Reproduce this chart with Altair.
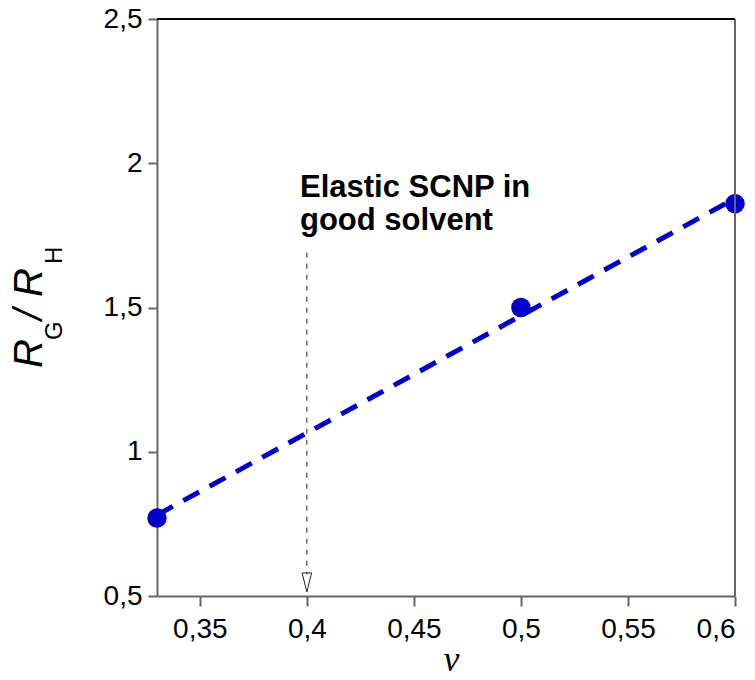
import altair as alt
import pandas as pd

# Measured ratio of radius of gyration to hydrodynamic radius vs. scaling exponent
nu = [0.33, 0.5, 0.6]
ratio = [0.77, 1.5, 1.86]

# Annotation arrow at nu = 0.4
arrow_x = [0.4]
arrow_top = [1.69]
arrow_bottom = [0.575]
arrowhead_y = [0.547]

note_x = [0.3968]
note_y = [1.883]
note_text = ["Elastic SCNP in\ngood solvent"]

x_ticks = [0.35, 0.4, 0.45, 0.5, 0.55, 0.6]
y_ticks = [0.5, 1, 1.5, 2, 2.5]

W, H = 578, 577
BLUE = "#0000cc"
SANS = "Liberation Sans"

pts = pd.DataFrame({"nu": nu, "ratio": ratio})
arrow = pd.DataFrame({"x": arrow_x, "y": arrow_top, "y2": arrow_bottom})
head = pd.DataFrame({"x": arrow_x, "y": arrowhead_y})
note = pd.DataFrame({"x": note_x, "y": note_y, "t": note_text})

comma = "replace(format(datum.value, '~g'), '.', ',')"

xscale = alt.Scale(domain=[0.33, 0.6], nice=False, zero=False)
yscale = alt.Scale(domain=[0.5, 2.5], nice=False, zero=False)

xaxis = alt.Axis(
    values=x_ticks, labelExpr=comma, grid=False,
    title="ν", titleFont="Liberation Serif", titleFontStyle="italic",
    titleFontWeight="normal", titleFontSize=36, titleColor="black",
    titleX=294, titleY=74, titleAlign="center", titleBaseline="alphabetic",
    labelFont=SANS, labelFontSize=28, labelColor="black", labelPadding=9,
    tickSize=10, tickWidth=2, tickColor="#666", domainColor="#666", domainWidth=2,
)
yaxis = alt.Axis(
    values=y_ticks, labelExpr=comma, grid=False, title=None,
    labelFont=SANS, labelFontSize=28, labelColor="black", labelPadding=6,
    tickSize=9, tickWidth=2, tickColor="#666", domainColor="#666", domainWidth=2,
)

base = alt.Chart(pts)

fit = base.transform_regression("nu", "ratio").mark_line(
    color=BLUE, strokeWidth=5, strokeDash=[18, 12]
).encode(
    x=alt.X("nu:Q", scale=xscale, axis=xaxis),
    y=alt.Y("ratio:Q", scale=yscale, axis=yaxis),
)

dots = base.mark_circle(color=BLUE, size=380, opacity=1).encode(
    x=alt.X("nu:Q", scale=xscale),
    y=alt.Y("ratio:Q", scale=yscale),
)

arrow_line = alt.Chart(arrow).mark_rule(
    color="#222", strokeWidth=1, strokeDash=[5, 6]
).encode(
    x=alt.X("x:Q", scale=xscale),
    y=alt.Y("y:Q", scale=yscale),
    y2="y2:Q",
)

arrow_head = alt.Chart(head).mark_point(
    shape="M-0.5,-1L0,1L0.5,-1Z", size=361, filled=False,
    color="#222", strokeWidth=1, opacity=1,
).encode(
    x=alt.X("x:Q", scale=xscale),
    y=alt.Y("y:Q", scale=yscale),
)

label = alt.Chart(note).mark_text(
    font=SANS, fontSize=31, fontWeight="bold", color="black",
    align="left", baseline="alphabetic", lineBreak="\n", lineHeight=33,
).encode(
    x=alt.X("x:Q", scale=xscale),
    y=alt.Y("y:Q", scale=yscale),
    text="t:N",
)

# Y-axis title R_G / R_H built from pieces so the subscripts sit lower
def piece(txt, x, y, size, italic):
    return alt.Chart(pd.DataFrame({"t": [txt]})).mark_text(
        font=SANS, fontSize=size, fontStyle="italic" if italic else "normal",
        color="black", align="left", baseline="alphabetic", angle=270,
    ).encode(x=alt.value(x), y=alt.value(y), text="t:N")

ytitle = [
    piece("R", -115, 349, 40, True),
    piece("G", -95, 321, 24, False),
    piece("/", -115, 301, 40, True),
    piece("R", -115, 278, 40, True),
    piece("H", -95, 245, 24, False),
]

# Frame: black top edge, grey right edge
top_edge = alt.Chart(pts).mark_rule(color="black", strokeWidth=2).encode(
    x=alt.value(0), x2=alt.value(W), y=alt.value(0)
)
right_edge = alt.Chart(pts).mark_rule(color="#666", strokeWidth=2).encode(
    x=alt.value(W), y=alt.value(0), y2=alt.value(H)
)

chart = alt.layer(
    fit, arrow_line, arrow_head, dots, label, top_edge, right_edge, *ytitle
).properties(
    width=W, height=H,
    autosize=alt.AutoSizeParams(type="none"),
    padding={"left": 157, "top": 19, "right": 20, "bottom": 84},
    background="white",
).configure_view(stroke=None)

chart.save("out.html", embed_options={"renderer": "svg", "actions": False})
